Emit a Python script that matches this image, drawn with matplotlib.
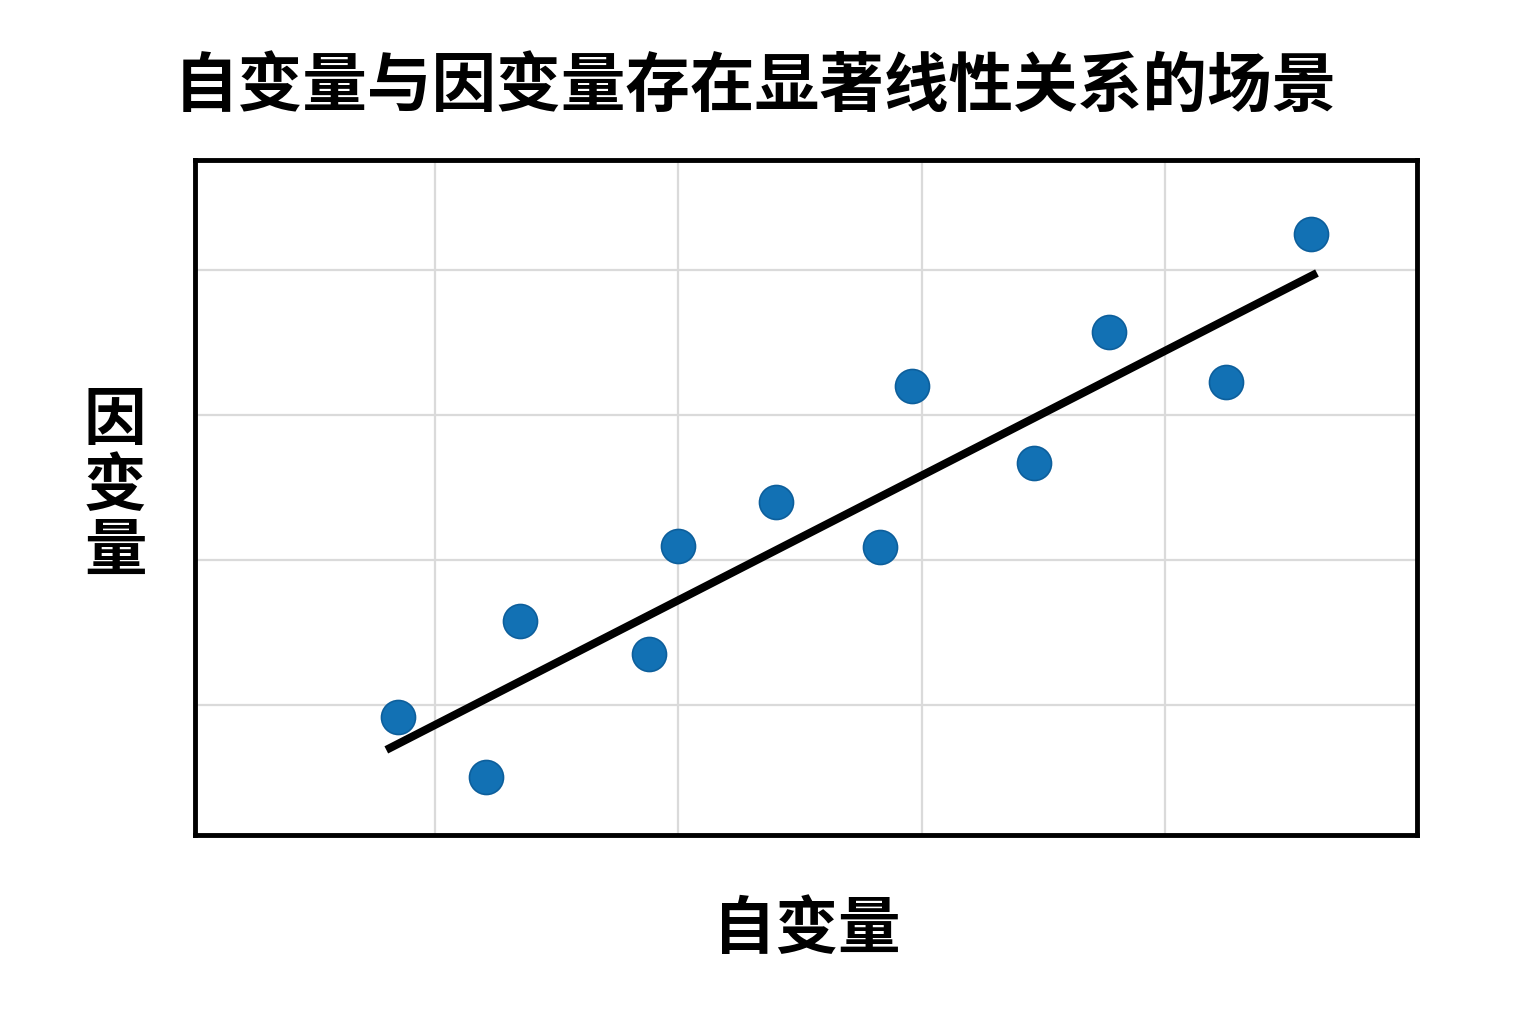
import matplotlib
matplotlib.use("Agg")
import matplotlib.pyplot as plt

plt.rcParams['font.family'] = ['Noto Sans CJK SC', 'DejaVu Sans']

title = "自变量与因变量存在显著线性关系的场景"
xlabel = "自变量"
ylabel = "因变量"

x_vals = [0.85, 1.21, 1.35, 1.88, 2.00, 2.40, 2.83, 2.96, 3.46, 3.77, 4.25, 4.60]
y_vals = [0.92, 0.50, 1.58, 1.35, 2.10, 2.40, 2.09, 3.20, 2.67, 3.57, 3.23, 4.25]
line_x = [0.80, 4.625]
line_y = [0.69, 3.98]
x_ticks = [1, 2, 3, 4]
y_ticks = [1, 2, 3, 4]

fig = plt.figure(figsize=(15.36, 10.24), dpi=100)
ax = fig.add_axes([0.127, 0.1846, 0.7955, 0.6592])
ax.set_xlim(0.014, 5.036)
ax.set_ylim(0.103, 4.76)
ax.set_xticks(x_ticks)
ax.set_yticks(y_ticks)
ax.tick_params(length=0, labelbottom=False, labelleft=False)
ax.grid(True, color='#dadada', linewidth=1.6)
ax.set_axisbelow(True)
for s in ax.spines.values():
    s.set_linewidth(3.5)
    s.set_color('black')

ax.plot(line_x, line_y, color='black', linewidth=5.8, solid_capstyle='butt', zorder=2)
ax.scatter(x_vals, y_vals, s=600, color='#1271b4', edgecolor='#0d5f9c', linewidth=1.2, zorder=3)

fig.text(0.492, 0.915, title, ha='center', va='center', fontsize=46.5, fontweight='heavy')
fig.text(0.525, 0.092, xlabel, ha='center', va='center', fontsize=45, fontweight='heavy')
fig.text(0.075, 0.525, "因\n变\n量", ha='center', va='center', fontsize=45, fontweight='heavy', linespacing=1.05)

fig.savefig("out.png", dpi=100, facecolor='white')
